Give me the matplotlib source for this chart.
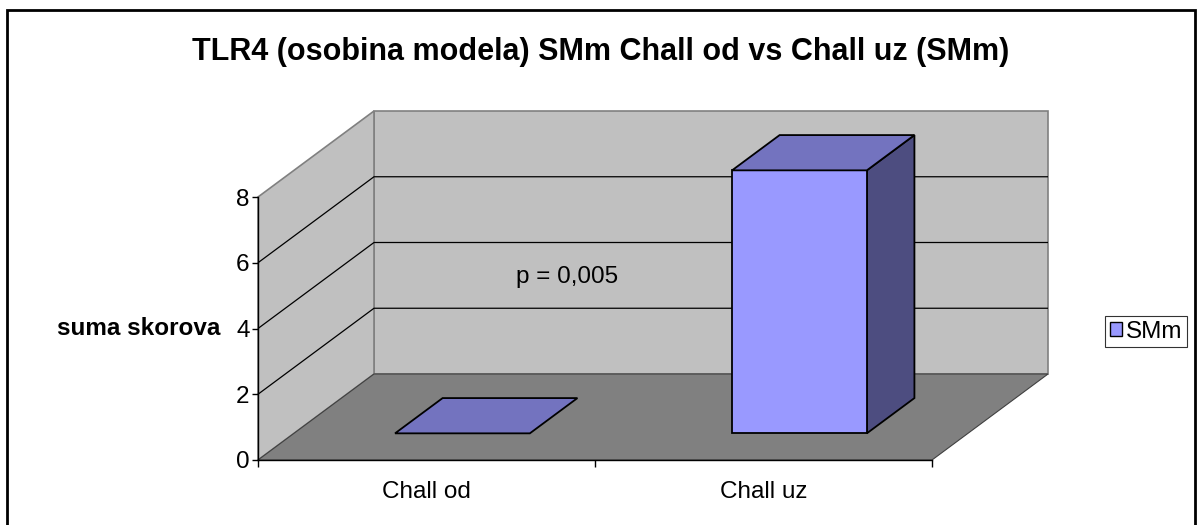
import matplotlib
matplotlib.use("Agg")
import matplotlib.pyplot as plt
from matplotlib.patches import Polygon, Rectangle, Patch

# ---- data ----
categories = ["Chall od", "Chall uz"]
values = [0, 8]
series_name = "SMm"
title = "TLR4 (osobina modela) SMm Chall od vs Chall uz (SMm)"
y_label = "suma skorova"
y_ticks = [0, 2, 4, 6, 8]
annotation = "p = 0,005"

plt.rcParams['font.family'] = ['Liberation Sans', 'DejaVu Sans']

W, H = 1202, 525
fig = plt.figure(figsize=(W / 100, H / 100), dpi=100)
fig.patch.set_facecolor("white")

# axes placed over the front plane of the 3D chart (pixel layout)
x0p, x1p, y0p, y1p = 258, 932, 460, 197
ax = fig.add_axes([x0p / W, 1 - y0p / H, (x1p - x0p) / W, (y0p - y1p) / H])
ax.set_facecolor("none")
n = len(categories)
ymax = max(y_ticks)
ax.set_xlim(0, n)
ax.set_ylim(0, ymax)

# depth offset in data units
px_per_x = (x1p - x0p) / n
px_per_y = (y0p - y1p) / ymax
DX = 116 / px_per_x
DY = 86 / px_per_y

wall_c = "#c0c0c0"
floor_c = "#808080"
edge_gray = "#808080"

# back wall
ax.add_patch(Polygon([(DX, DY), (n + DX, DY), (n + DX, ymax + DY), (DX, ymax + DY)],
                     closed=True, facecolor=wall_c, edgecolor=edge_gray, lw=1.2,
                     clip_on=False, zorder=1))
# left wall
ax.add_patch(Polygon([(0, 0), (DX, DY), (DX, ymax + DY), (0, ymax)],
                     closed=True, facecolor=wall_c, edgecolor=edge_gray, lw=1.2,
                     clip_on=False, zorder=1))
# floor
ax.add_patch(Polygon([(0, 0), (n, 0), (n + DX, DY), (DX, DY)],
                     closed=True, facecolor=floor_c, edgecolor="#404040", lw=0.8,
                     clip_on=False, zorder=1))
# gridlines
for v in y_ticks[1:-1]:
    ax.plot([0, DX, n + DX], [v, v + DY, v + DY], color="black", lw=0.9,
            clip_on=False, zorder=2, solid_capstyle="butt")

# bars
front_c, top_c, side_c = "#9999ff", "#7373bf", "#4d4d80"
bw = 0.4
d1, d2 = 0.31, 0.72
for i, v in enumerate(values):
    xl = i + (1 - bw) / 2
    fx, fy = xl + d1 * DX, d1 * DY
    bx, by = xl + d2 * DX, d2 * DY
    kw = dict(closed=True, edgecolor="black", lw=1.3, clip_on=False, zorder=3,
              joinstyle="miter")
    if v > 0:
        ax.add_patch(Polygon([(fx + bw, fy), (bx + bw, by), (bx + bw, by + v), (fx + bw, fy + v)],
                             facecolor=side_c, **kw))
        ax.add_patch(Polygon([(fx, fy), (fx + bw, fy), (fx + bw, fy + v), (fx, fy + v)],
                             facecolor=front_c, **kw))
    ax.add_patch(Polygon([(fx, fy + v), (fx + bw, fy + v), (bx + bw, by + v), (bx, by + v)],
                         facecolor=top_c, **kw))

# axes styling
for s in ["top", "right"]:
    ax.spines[s].set_visible(False)
for s in ["left", "bottom"]:
    ax.spines[s].set_color("black")
    ax.spines[s].set_linewidth(1.0)
    ax.spines[s].set_zorder(4)
ax.set_yticks(y_ticks)
ax.set_yticklabels([str(t) for t in y_ticks])
ax.tick_params(axis="y", direction="out", length=4, width=1, pad=2, labelsize=17.5)
ax.set_xticks(range(n + 1))
ax.set_xticklabels([])
ax.tick_params(axis="x", which="major", direction="out", length=5, width=1)
ax.set_xticks([i + 0.5 for i in range(n)], minor=True)
ax.set_xticklabels(categories, minor=True)
ax.tick_params(axis="x", which="minor", length=0, pad=15, labelsize=17.5)

ax.set_ylabel(y_label, rotation=0, ha="right", va="center", fontsize=17.5, fontweight="bold")
ax.yaxis.set_label_coords(-0.056, 0.5)

ax.text(0.917, 5.57, annotation, ha="center", va="center", fontsize=17.5, zorder=5)

fig.text(0.5, 1 - 52 / H, title, ha="center", va="center", fontsize=22, fontweight="bold")

leg = fig.legend(handles=[Patch(facecolor=front_c, edgecolor="black", lw=1, label=series_name)],
                 loc="center right", bbox_to_anchor=(1187 / W, 1 - 331.5 / H),
                 fontsize=17.5, frameon=True, fancybox=False, handlelength=0.5,
                 handleheight=0.5, handletextpad=0.15, borderpad=0.2,
                 borderaxespad=0)
leg.get_frame().set_edgecolor("black")
leg.get_frame().set_linewidth(0.8)

# outer chart border
fig.patches.append(Rectangle((7 / W, -0.05), (1195 - 7) / W, 1 - 10 / H + 0.05,
                             transform=fig.transFigure, fill=False,
                             edgecolor="black", lw=2, zorder=0))

fig.savefig("out.png", dpi=100)
